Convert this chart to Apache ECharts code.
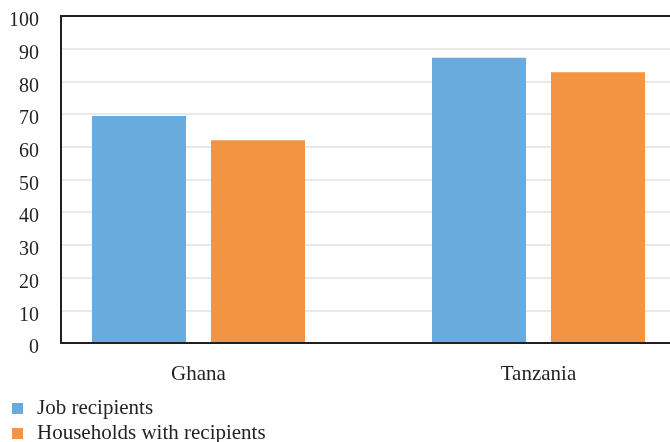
<!DOCTYPE html>
<html>
<head>
<meta charset="utf-8">
<script src="https://cdn.jsdelivr.net/npm/echarts@6/dist/echarts.min.js"></script>
<style>
  html, body { margin: 0; padding: 0; background: #fff; }
  #chart { width: 670px; height: 442px; }
</style>
</head>
<body>
<div id="chart"></div>
<script>
// Share of recipients (%), by country
const categories = ['Ghana', 'Tanzania'];
const jobRecipients = [69.4, 87.2];
const householdsWithRecipients = [62.0, 82.8];
const yTicks = [0, 10, 20, 30, 40, 50, 60, 70, 80, 90, 100];

const FONT = '"Liberation Serif", "DejaVu Serif", serif';
const INK = '#231f20';
const BLUE = '#69abdd';
const ORANGE = '#f29441';

const chart = echarts.init(document.getElementById('chart'), null, { renderer: 'canvas' });

chart.setOption({
  backgroundColor: '#ffffff',
  animation: false,
  legend: {
    orient: 'vertical',
    left: 12,
    top: 398,
    height: 60,
    padding: 0,
    icon: 'rect',
    itemWidth: 11,
    itemHeight: 11,
    itemGap: 4,
    textStyle: {
      fontFamily: FONT,
      fontSize: 21,
      color: INK,
      lineHeight: 16,
      padding: [0, 0, 0, 9]
    },
    data: ['Job recipients', 'Households with recipients']
  },
  grid: [
    // frame: value axis, gridlines and the top/bottom rules
    { left: 61, width: 640, top: 16, bottom: 99, containLabel: false, outerBoundsMode: 'none' },
    // bars and category labels
    { left: 28.5, width: 680, top: 16, bottom: 99, containLabel: false, outerBoundsMode: 'none' }
  ],
  xAxis: [
    {
      gridIndex: 0, type: 'value', position: 'bottom', min: 0, max: 1, z: 5,
      axisLine: { show: true, lineStyle: { color: INK, width: 2 } },
      axisTick: { show: false }, axisLabel: { show: false }, splitLine: { show: false }
    },
    {
      gridIndex: 0, type: 'value', position: 'top', min: 0, max: 1, z: 5,
      axisLine: { show: true, lineStyle: { color: INK, width: 2 } },
      axisTick: { show: false }, axisLabel: { show: false }, splitLine: { show: false }
    },
    {
      gridIndex: 1, type: 'category', data: categories, boundaryGap: true,
      axisLine: { show: false }, axisTick: { show: false },
      axisLabel: { fontFamily: FONT, fontSize: 21, color: INK, margin: 21 }
    }
  ],
  yAxis: [
    {
      gridIndex: 0, type: 'value', min: yTicks[0], max: yTicks[yTicks.length - 1],
      interval: yTicks[1] - yTicks[0],
      axisLine: { show: true, lineStyle: { color: INK, width: 2 } },
      axisTick: { show: false },
      axisLabel: {
        margin: 22,
        formatter: '{v|{value}}',
        rich: { v: { fontFamily: FONT, fontSize: 20, color: INK, padding: [10, 0, 0, 0] } }
      },
      splitLine: { show: true, lineStyle: { color: '#e2e2e2', width: 1.5 } }
    },
    {
      gridIndex: 1, type: 'value', min: yTicks[0], max: yTicks[yTicks.length - 1],
      show: false, splitLine: { show: false }
    }
  ],
  series: [
    {
      name: 'Job recipients', type: 'bar', xAxisIndex: 2, yAxisIndex: 1,
      data: jobRecipients, barWidth: 94, barGap: '26.6%',
      itemStyle: { color: BLUE }
    },
    {
      name: 'Households with recipients', type: 'bar', xAxisIndex: 2, yAxisIndex: 1,
      data: householdsWithRecipients, barWidth: 94, barGap: '26.6%',
      itemStyle: { color: ORANGE }
    }
  ]
});
</script>
</body>
</html>
